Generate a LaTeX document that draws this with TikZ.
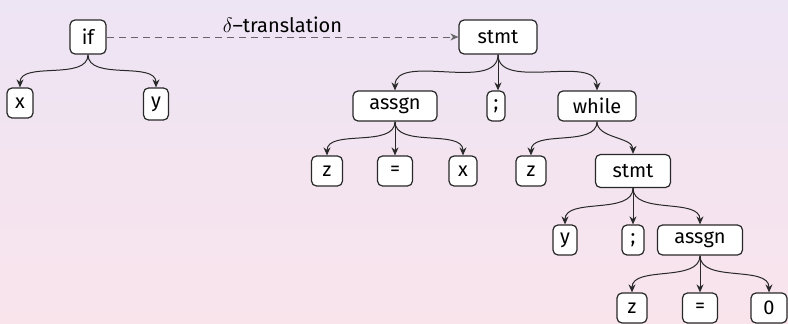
\documentclass[tikz,border=0pt]{standalone}
\usepackage{fontspec}
\setmainfont{Fira Sans}
\usetikzlibrary{arrows.meta}
\definecolor{bgtop}{RGB}{237,228,244}
\definecolor{bgbot}{RGB}{249,228,236}
\definecolor{edge}{RGB}{40,40,40}
\tikzset{
  tnode/.style={draw=edge, line width=1.2pt, fill=white, rounded corners=5pt,
    minimum height=30pt, inner sep=2pt, font=\fontsize{20}{22}\selectfont},
  arr/.style={-{Stealth[length=8pt,width=7pt]}, line width=1pt, draw=edge},
  tree/.style={arr, out=-90, in=90, looseness=0.9},
  dasharr/.style={-{Stealth[length=8pt,width=7pt]}, line width=1pt, draw=gray!80!black, dash pattern=on 7pt off 5pt}
}
\begin{document}
\begin{tikzpicture}[x=1pt,y=-1pt]
\shade[top color=bgtop, bottom color=bgbot] (0,0) rectangle (788,324);
\useasboundingbox (0,0) rectangle (788,324);
% left tree
\node[tnode, minimum width=36pt, minimum height=34pt] (if) at (88,37) {if};
\node[tnode, minimum width=26pt] (x1) at (20,103) {x};
\node[tnode, minimum width=25pt, minimum height=32pt] (y1) at (156,104) {y};
% right tree
\node[tnode, minimum width=78pt, minimum height=34pt] (s1) at (498,37) {stmt};
\node[tnode, minimum width=84pt] (a1) at (395,106) {assgn};
\node[tnode, minimum width=18pt] (sc1) at (496,106) {;};
\node[tnode, minimum width=78pt] (w) at (597,106) {while};
\node[tnode, minimum width=31pt] (z1) at (327,171) {z};
\node[tnode, minimum width=35pt] (e1) at (395,171) {=};
\node[tnode, minimum width=28pt] (x2) at (463,171) {x};
\node[tnode, minimum width=30pt] (z2) at (531,171) {z};
\node[tnode, minimum width=75pt, minimum height=33pt] (s2) at (633,171) {stmt};
\node[tnode, minimum width=24pt] (y2) at (565,240) {y};
\node[tnode, minimum width=22pt] (sc2) at (633,240) {;};
\node[tnode, minimum width=85pt] (a2) at (700,240) {assgn};
\node[tnode, minimum width=30pt] (z3) at (632,308) {z};
\node[tnode, minimum width=35pt] (e2) at (700,308) {=};
\node[tnode, minimum width=36pt] (n0) at (769,308) {0};
% edges
\draw[tree] (if.south) to (x1.north);
\draw[tree] (if.south) to (y1.north);
\draw[tree] (s1.south) to (a1.north);
\draw[arr] (s1.south) -- (sc1.north -| s1.south);
\draw[tree] (s1.south) to (w.north);
\draw[tree] (a1.south) to (z1.north);
\draw[arr] (a1.south) -- (e1.north);
\draw[tree] (a1.south) to (x2.north);
\draw[tree] (w.south) to (z2.north);
\draw[tree] (w.south) to (s2.north);
\draw[tree] (s2.south) to (y2.north);
\draw[arr] (s2.south) -- (sc2.north);
\draw[tree] (s2.south) to (a2.north);
\draw[tree] (a2.south) to (z3.north);
\draw[arr] (a2.south) -- (e2.north);
\draw[tree] (a2.south) to (n0.north);
% translation
\draw[dasharr] (if.east) -- node[above=0pt, font=\fontsize{20}{22}\selectfont, text=black] (lbl) {$\delta$--translation} (s1.west);
\end{tikzpicture}
\end{document}
